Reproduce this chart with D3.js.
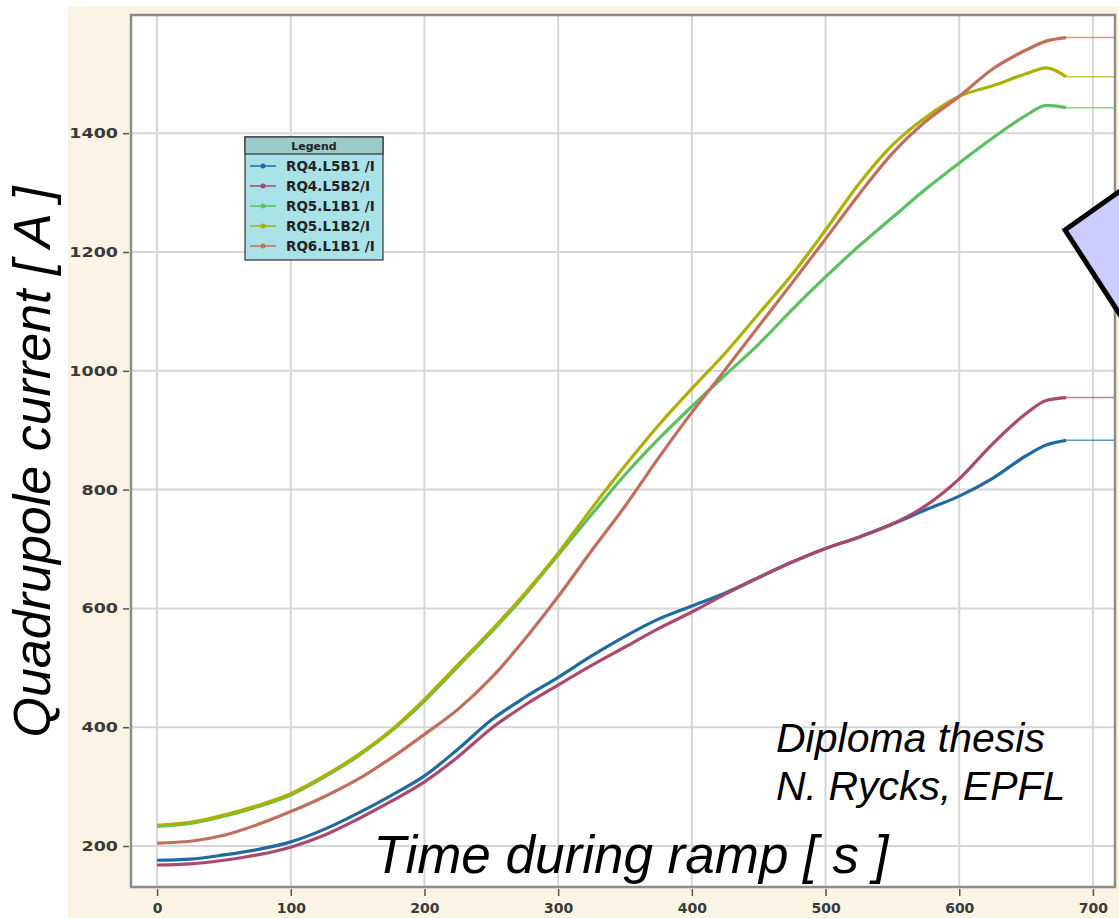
<!DOCTYPE html>
<html>
<head>
<meta charset="utf-8">
<script src="https://cdn.jsdelivr.net/npm/d3@7"></script>
<style>
  body { margin: 0; background: #fff; }
  svg { display: block; }
</style>
</head>
<body>
<div id="plot"></div>
<script>
// Data
const times = [0, 25, 50, 75, 100, 125, 150, 175, 200, 225, 250, 275, 300, 325, 350, 375, 400,
               425, 450, 475, 500, 525, 550, 575, 600, 625, 650, 665, 680];

const rq4_l5b1 = [176, 178, 185, 194, 207, 228, 255, 285, 318, 363, 412, 450, 484, 520, 553, 582, 604,
                  626, 652, 678, 701, 720, 742, 766, 789, 819, 857, 875, 883];
const rq4_l5b2 = [168, 170, 176, 185, 198, 218, 245, 275, 308, 350, 398, 437, 471, 504, 535, 566, 594,
                  624, 652, 678, 701, 720, 742, 773, 818, 877, 928, 950, 955];
const rq5_l1b1 = [233, 238, 250, 266, 286, 316, 351, 393, 444, 502, 560, 622, 690, 758, 825, 885, 940,
                  993, 1045, 1103, 1158, 1210, 1258, 1306, 1350, 1392, 1430, 1447, 1443];
const rq5_l1b2 = [235, 240, 252, 268, 288, 318, 353, 395, 447, 505, 563, 625, 693, 768, 840, 908, 970,
                  1030, 1096, 1162, 1237, 1315, 1380, 1427, 1462, 1480, 1500, 1510, 1495];
const rq6_l1b1 = [205, 208, 218, 236, 258, 283, 312, 348, 388, 430, 483, 548, 620, 697, 772, 853, 930,
                  1002, 1075, 1148, 1222, 1297, 1366, 1420, 1462, 1508, 1540, 1555, 1561];

const seriesNames = ["RQ4.L5B1 /I", "RQ4.L5B2/I", "RQ5.L1B1 /I", "RQ5.L1B2/I", "RQ6.L1B1 /I"];
const seriesColors = ["#1f6aa0", "#a84a6e", "#5cc060", "#adb000", "#c0705a"];
const seriesValues = [rq4_l5b1, rq4_l5b2, rq5_l1b1, rq5_l1b2, rq6_l1b1];

const xTicks = [0, 100, 200, 300, 400, 500, 600, 700];
const yTicks = [200, 400, 600, 800, 1000, 1200, 1400];

const width = 1119;
const height = 918;

const left_edge = 131;
const right_edge = 1115;
const top_bound = 15;
const bottom_bound = 887;

d3.select("#plot")
    .append("svg")
    .attr("width", width)
    .attr("height", height);

const svg = d3.select("svg");

const x = d3.scaleLinear().domain([-19.5, 716.5]).range([left_edge, right_edge]);
const y = d3.scaleLinear().domain([131, 1599]).range([bottom_bound, top_bound]);

// beige panel behind the plot
svg.append("rect")
    .attr("x", 68)
    .attr("y", 6)
    .attr("width", width - 68)
    .attr("height", height - 6)
    .attr("fill", "#fbf4e4");

// plot area
svg.append("rect")
    .attr("x", left_edge)
    .attr("y", top_bound)
    .attr("width", right_edge - left_edge)
    .attr("height", bottom_bound - top_bound)
    .attr("fill", "#ffffff");

// grid
svg.append("g")
    .selectAll("line.vgrid").data(xTicks).enter().append("line")
    .attr("class", "vgrid")
    .attr("x1", d => x(d)).attr("x2", d => x(d))
    .attr("y1", top_bound).attr("y2", bottom_bound)
    .attr("stroke", "#d6d6d6")
    .attr("stroke-width", 2);

svg.append("g")
    .selectAll("line.hgrid").data(yTicks).enter().append("line")
    .attr("class", "hgrid")
    .attr("x1", left_edge).attr("x2", right_edge)
    .attr("y1", d => y(d)).attr("y2", d => y(d))
    .attr("stroke", "#d6d6d6")
    .attr("stroke-width", 2);

// axes
const xAxis = svg.append("g")
    .attr("transform", `translate(0,${bottom_bound + 2})`)
    .call(d3.axisBottom(x).tickValues(xTicks).tickSize(7).tickPadding(7));

const yAxis = svg.append("g")
    .attr("transform", `translate(${left_edge - 2},0)`)
    .call(d3.axisLeft(y).tickValues(yTicks).tickFormat(d3.format("d")).tickSize(6).tickPadding(10));

[xAxis, yAxis].forEach(a => {
    a.select(".domain").remove();
    a.selectAll(".tick line").attr("stroke", "#555").attr("stroke-width", 1.5);
    a.selectAll(".tick text")
        .attr("fill", "#3a3a3a")
        .style("font-family", "DejaVu Sans")
        .style("font-weight", "bold")
        .style("font-size", "14px");
});

// y labels look stretched sideways in the original
yAxis.selectAll(".tick text")
    .attr("x", null)
    .attr("transform", "translate(-11,0) scale(1.25,1)");

// lines
const line = d3.line()
    .x((d) => x(d[0]))
    .y((d) => y(d[1]))
    .curve(d3.curveMonotoneX);

const plot = svg.append("g");

seriesValues.forEach((vals, k) => {
    const pts = times.map((t, i) => [t, vals[i]]);
    const last = pts[pts.length - 1];

    // flat hold after the ramp end
    plot.append("line")
        .attr("x1", x(last[0]))
        .attr("x2", x(x.domain()[1]))
        .attr("y1", y(last[1]))
        .attr("y2", y(last[1]))
        .attr("stroke", seriesColors[k])
        .attr("stroke-opacity", 0.7)
        .attr("stroke-width", 1.5);

    plot.append("path")
        .datum(pts)
        .attr("d", line)
        .attr("fill", "none")
        .attr("stroke", seriesColors[k])
        .attr("stroke-width", 3.2)
        .attr("stroke-linejoin", "round");
});

// frame
svg.append("rect")
    .attr("x", left_edge)
    .attr("y", top_bound)
    .attr("width", right_edge - left_edge)
    .attr("height", bottom_bound - top_bound)
    .attr("fill", "none")
    .attr("stroke", "#8c8c8c")
    .attr("stroke-width", 2.5);

// legend
const lg = svg.append("g").attr("transform", "translate(245,137)");
const lg_w = 138;

lg.append("rect")
    .attr("width", lg_w).attr("height", 123)
    .attr("fill", "#a8e2e6")
    .attr("stroke", "#333").attr("stroke-width", 1.2);

lg.append("rect")
    .attr("width", lg_w).attr("height", 17)
    .attr("fill", "#9bcacb")
    .attr("stroke", "#333").attr("stroke-width", 1.2);

lg.append("text")
    .attr("x", lg_w / 2).attr("y", 13)
    .attr("text-anchor", "middle")
    .style("font-family", "DejaVu Sans")
    .style("font-weight", "bold")
    .style("font-size", "11px")
    .attr("fill", "#222")
    .text("Legend");

const rows = lg.selectAll("g.row").data(seriesNames).enter().append("g")
    .attr("class", "row")
    .attr("transform", (d, i) => `translate(0,${29 + i * 20})`);

rows.append("line")
    .attr("x1", 5).attr("x2", 31)
    .attr("stroke", (d, i) => seriesColors[i])
    .attr("stroke-width", 1.5);

rows.append("circle")
    .attr("cx", 18).attr("r", 2.5)
    .attr("fill", (d, i) => seriesColors[i]);

rows.append("text")
    .attr("x", 41).attr("y", 5)
    .style("font-family", "DejaVu Sans")
    .style("font-weight", "bold")
    .style("font-size", "13.5px")
    .attr("fill", "#222")
    .text((d) => d);

// axis titles and note
svg.append("text")
    .attr("transform", "translate(50,462) rotate(-90)")
    .attr("text-anchor", "middle")
    .style("font-family", "Liberation Sans")
    .style("font-style", "italic")
    .style("font-size", "52px")
    .text("Quadrupole current [ A ]");

svg.append("text")
    .attr("x", 631).attr("y", 873)
    .attr("text-anchor", "middle")
    .style("font-family", "Liberation Sans")
    .style("font-style", "italic")
    .style("font-size", "53px")
    .text("Time during ramp [ s ]");

svg.append("text")
    .attr("x", 776).attr("y", 752)
    .style("font-family", "Liberation Sans")
    .style("font-style", "italic")
    .style("font-size", "41px")
    .text("Diploma thesis");

svg.append("text")
    .attr("x", 776).attr("y", 800)
    .style("font-family", "Liberation Sans")
    .style("font-style", "italic")
    .style("font-size", "41px")
    .text("N. Rycks, EPFL");

// callout shape at the right edge
svg.append("polygon")
    .attr("points", "1065,230 1130,184 1130,330")
    .attr("fill", "#ccccff")
    .attr("stroke", "#000")
    .attr("stroke-width", 5)
    .attr("stroke-linejoin", "miter");
</script>
</body>
</html>
